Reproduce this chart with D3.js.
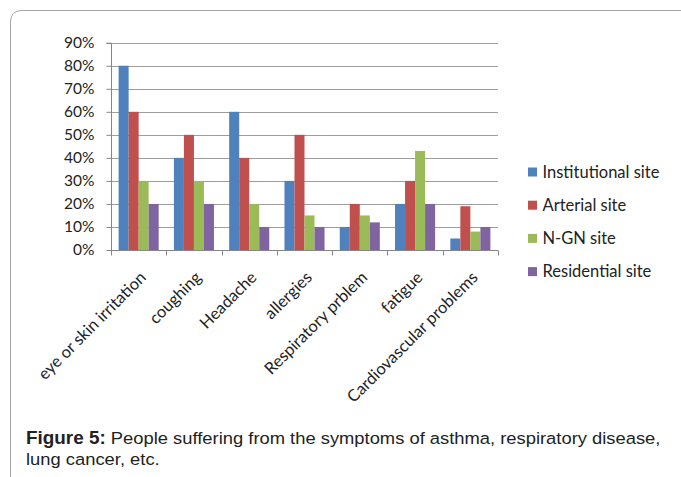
<!DOCTYPE html>
<html>
<head>
<meta charset="utf-8">
<script src="https://cdn.jsdelivr.net/npm/d3@7"></script>
<style>
  html, body { margin: 0; padding: 0; background: #fff; }
  svg { display: block; }
</style>
</head>
<body>
<svg id="chart" width="681" height="477"></svg>
<script>
// Symptom categories and the share of respondents at each site (%)
const categories = ["eye or skin irritation", "coughing", "Headache", "allergies",
                    "Respiratory prblem", "fatigue", "Cardiovascular problems"];
const seriesNames = ["Institutional site", "Arterial site", "N-GN site", "Residential site"];
const institutional = [80, 40, 60, 30, 10, 20, 5];
const arterial      = [60, 50, 40, 50, 20, 30, 19];
const ngn           = [30, 30, 20, 15, 15, 43, 8];
const residential   = [20, 20, 10, 10, 12, 20, 10];
const yTicks = [0, 10, 20, 30, 40, 50, 60, 70, 80, 90];
const colors = ["#4F81BD", "#C0504D", "#9BBB59", "#8064A2"];

const seriesValues = [institutional, arterial, ngn, residential];
const chartFont = "Lato, 'Open Sans', sans-serif";

const svg = d3.select("#chart");

// Outer frame: rounded top-left corner, top and left edges only
svg.append("path")
  .attr("d", "M10.5,477 L10.5,22 Q10.5,10.5 22,10.5 L681,10.5")
  .attr("fill", "none")
  .attr("stroke", "#a6a6a6")
  .attr("stroke-width", 1);

const plot = { left: 111, right: 498, top: 42.7, bottom: 250 };

const x = d3.scaleBand().domain(categories).range([plot.left, plot.right]);
const xInner = d3.scaleBand().domain(seriesNames)
  .range([0, x.bandwidth()]).paddingOuter(0.76);
const y = d3.scaleLinear().domain([0, 90]).range([plot.bottom, plot.top]);

// Horizontal gridlines
svg.append("g").selectAll("line")
  .data(yTicks.filter(d => d > 0))
  .join("line")
  .attr("x1", plot.left).attr("x2", plot.right)
  .attr("y1", d => Math.round(y(d)) + 0.5).attr("y2", d => Math.round(y(d)) + 0.5)
  .attr("stroke", "#9d9d9d").attr("stroke-width", 1);

// Bars
const groups = svg.append("g").selectAll("g")
  .data(categories)
  .join("g")
  .attr("transform", d => `translate(${x(d)},0)`);

groups.selectAll("rect")
  .data((c, i) => seriesNames.map((s, j) => ({ s, j, v: seriesValues[j][i] })))
  .join("rect")
  .attr("x", d => xInner(d.s))
  .attr("width", xInner.bandwidth())
  .attr("y", d => y(d.v))
  .attr("height", d => y(0) - y(d.v))
  .attr("fill", d => colors[d.j]);

// Y axis
const yAxis = d3.axisLeft(y).tickValues(yTicks).tickFormat(d => d + "%").tickSize(5).tickPadding(12);
const gy = svg.append("g").attr("transform", `translate(${plot.left + 0.5},0)`).call(yAxis);
gy.select(".domain").attr("stroke", "#868686").attr("d", `M-5,${Math.round(y(90)) + 0.5}H0V${plot.bottom}`);
gy.selectAll(".tick line").attr("stroke", "#868686");
gy.selectAll(".tick text")
  .attr("font-family", chartFont)
  .attr("font-size", 15.5)
  .attr("fill", "#222");

// X axis with category ticks at band boundaries
const gx = svg.append("g").attr("transform", `translate(0,${plot.bottom + 0.5})`);
gx.append("line")
  .attr("x1", plot.left).attr("x2", plot.right)
  .attr("stroke", "#868686");
const boundaries = categories.map(c => x(c)).concat([plot.right]);
gx.selectAll("line.tk")
  .data(boundaries)
  .join("line")
  .attr("class", "tk")
  .attr("x1", d => Math.round(d) + 0.5).attr("x2", d => Math.round(d) + 0.5)
  .attr("y1", 0).attr("y2", 5)
  .attr("stroke", "#868686");

gx.selectAll("text")
  .data(categories)
  .join("text")
  .attr("transform", d => `translate(${x(d) + x.bandwidth() / 2 + 8.5},${28}) rotate(-45)`)
  .attr("text-anchor", "end")
  .attr("font-family", chartFont)
  .attr("font-size", 16.5)
  .attr("fill", "#222")
  .text(d => d);

// Legend
const legend = svg.append("g").attr("transform", "translate(528,172)");
const lg = legend.selectAll("g")
  .data(seriesNames)
  .join("g")
  .attr("transform", (d, i) => `translate(0,${i * 33.2})`);
lg.append("rect")
  .attr("x", 0).attr("y", -4.5).attr("width", 9).attr("height", 9)
  .attr("fill", (d, i) => colors[i]);
lg.append("text")
  .attr("x", 14.5).attr("y", 0).attr("dy", "0.35em")
  .attr("font-family", chartFont)
  .attr("font-size", 16.5)
  .attr("fill", "#222")
  .text(d => d);

// Caption
const cap = svg.append("g")
  .attr("transform", "translate(26,0) scale(1.08,1)")
  .attr("font-family", "'Liberation Sans', Arial, sans-serif")
  .attr("font-size", 17)
  .attr("fill", "#222");
const line1 = cap.append("text").attr("x", 0).attr("y", 444);
line1.append("tspan").attr("font-weight", "bold").attr("font-size", 17.5).text("Figure 5:");
line1.append("tspan").text(" People suffering from the symptoms of asthma, respiratory disease,");
cap.append("text").attr("x", 0).attr("y", 465).text("lung cancer, etc.");
</script>
</body>
</html>
